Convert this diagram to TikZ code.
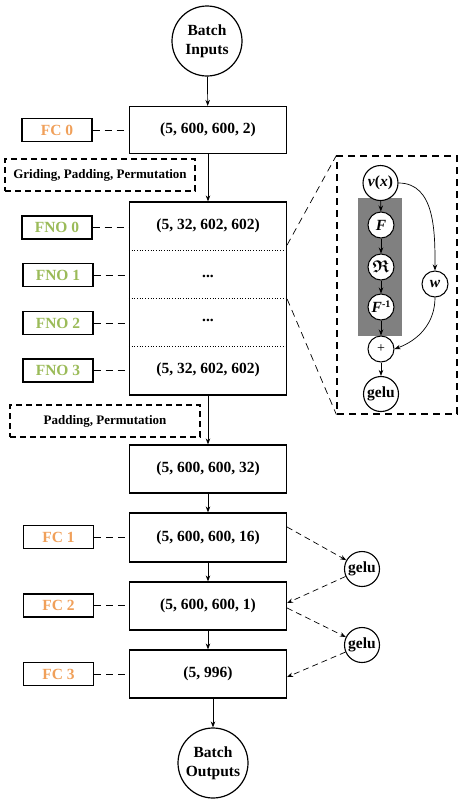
\documentclass[tikz,border=0pt]{standalone}
\usepackage{amsmath,amssymb}
\usepackage{fontspec}
\setmainfont{Liberation Serif}
\usetikzlibrary{arrows.meta}
\definecolor{fcorange}{RGB}{240,160,90}
\definecolor{fnogreen}{RGB}{155,187,89}
\definecolor{bandgray}{RGB}{128,128,128}
\begin{document}
\begin{tikzpicture}[x=1pt,y=-1pt,
  every node/.style={font=\fontsize{15.5}{16}\selectfont\bfseries, inner sep=0pt},
  mainbox/.style={draw, line width=1.2pt, minimum width=157pt},
  lab/.style={draw, line width=1.2pt, minimum width=70pt, minimum height=23pt},
  dbox/.style={draw, dashed, line width=1.2pt, dash pattern=on 6pt off 4pt, minimum width=190pt, minimum height=32pt, font=\fontsize{13}{14}\selectfont\bfseries},
  bigcirc/.style={draw, circle, line width=1.2pt, minimum size=70pt, align=center, font=\fontsize{15.5}{19}\selectfont\bfseries},
  smallcirc/.style={draw, circle, line width=1pt, minimum size=26pt},
  midcirc/.style={draw, circle, line width=1.1pt, minimum size=35pt},
  arr/.style={-{Stealth[length=6pt,width=4.5pt]}, line width=0.7pt},
  darr/.style={-{Stealth[length=6pt,width=4.5pt]}, line width=0.7pt, dash pattern=on 6pt off 4pt},
  link/.style={line width=0.7pt, dash pattern=on 7pt off 5pt}]
\useasboundingbox (0,0) rectangle (462,804);

% main column
\node[bigcirc] (in) at (207,41) {Batch\\Inputs};
\node[mainbox, minimum height=47pt] (b0) at (208,130) {(5, 600, 600, 2)};
\node[lab, text=fcorange] (l0) at (57,130) {FC 0};
\node[dbox] (grid) at (100,175) {Griding, Padding, Permutation};

\node[mainbox, minimum height=193pt] (fno) at (208,298.5) {};
\node (r0) at (208,226) {(5, 32, 602, 602)};
\node (r1) at (208,276) {...};
\node (r2) at (208,320) {...};
\node (r3) at (208,370) {(5, 32, 602, 602)};
\draw[dotted, line width=0.7pt] (fno.west |- 0,250) -- (fno.east |- 0,250);
\draw[dotted, line width=0.7pt] (fno.west |- 0,298) -- (fno.east |- 0,298);
\draw[dotted, line width=0.7pt] (fno.west |- 0,346) -- (fno.east |- 0,346);

\node[lab, text=fnogreen] (f0) at (57,227.5) {FNO 0};
\node[lab, text=fnogreen] (f1) at (58,275) {FNO 1};
\node[lab, text=fnogreen] (f2) at (58,323) {FNO 2};
\node[lab, text=fnogreen] (f3) at (58,370.5) {FNO 3};

\node[dbox] (pad) at (105,421) {Padding, Permutation};

\node[mainbox, minimum height=48pt] (b1) at (208,469) {(5, 600, 600, 32)};
\node[mainbox, minimum height=49pt] (b2) at (208,537.5) {(5, 600, 600, 16)};
\node[mainbox, minimum height=48pt] (b3) at (208,606) {(5, 600, 600, 1)};
\node[mainbox, minimum height=48pt] (b4) at (208,674) {(5, 996)};
\node[bigcirc] (out) at (213,763) {Batch\\Outputs};

\node[lab, text=fcorange] (l1) at (58.5,537) {FC 1};
\node[lab, text=fcorange] (l2) at (58.5,605.5) {FC 2};
\node[lab, text=fcorange] (l3) at (58.5,674) {FC 3};

\node[midcirc] (g1) at (362,569) {gelu};
\node[midcirc] (g2) at (362,645) {gelu};

% main arrows
\draw[arr] (in) -- (b0);
\draw[arr] (b0) -- (fno);
\draw[arr] (fno) -- (b1);
\draw[arr] (b1) -- (b2);
\draw[arr] (b2) -- (b3);
\draw[arr] (b3) -- (b4);
\draw[arr] (b4.south -| out) -- (out);

% label links
\draw[link] (l0) -- (b0);
\draw[link] (f0) -- (f0 -| fno.west);
\draw[link] (f1) -- (f1 -| fno.west);
\draw[link] (f2) -- (f2 -| fno.west);
\draw[link] (f3) -- (f3 -| fno.west);
\draw[link] (l1) -- (b2.west |- l1);
\draw[link] (l2) -- (b3.west |- l2);
\draw[link] (l3) -- (b4);

% gelu side arrows
\draw[darr] (b2.east |- 0,527) -- (g1);
\draw[darr] (g1) -- (b3.east |- 0,603);
\draw[darr] (b3.east |- 0,608) -- (g2);
\draw[darr] (g2) -- (b4.east |- 0,677);

% inset
\node[draw, dashed, line width=1.2pt, dash pattern=on 7pt off 5pt, minimum width=120pt, minimum height=258pt] (inset) at (397,285) {};
\draw[link] (fno.east |- 0,245) -- (inset.north west);
\draw[link] (fno.east |- 0,299) -- (inset.south west);
\node[fill=bandgray, minimum width=44pt, minimum height=138pt] (band) at (380,267) {};

\node[midcirc, fill=white] (vx) at (380.5,183) {\textit{v}(\textit{x})};
\node[smallcirc, fill=white] (F) at (381,225) {\textit{F}};
\node[smallcirc, fill=white, font=\fontsize{17}{17}\selectfont] (R) at (381,267) {$\boldsymbol{\mathfrak{R}}$};
\node[smallcirc, fill=white] (Fi) at (381,307) {\textit{F}\raisebox{5pt}{\fontsize{10}{10}\selectfont -1}};
\node[smallcirc, fill=white, font=\fontsize{14}{14}\selectfont] (plus) at (381,349) {+};
\node[midcirc, fill=white] (gl) at (381,394) {gelu};
\node[smallcirc, fill=white] (w) at (435,284) {\textit{w}};

\draw[arr] (vx) -- (F);
\draw[arr] (F) -- (R);
\draw[arr] (R) -- (Fi);
\draw[arr] (Fi) -- (plus);
\draw[arr] (plus) -- (gl);
\draw[arr] (vx.east) to[out=0, in=90] (w.north);
\draw[arr] (w.south) to[out=-90, in=20] (plus.east);
\end{tikzpicture}
\end{document}
